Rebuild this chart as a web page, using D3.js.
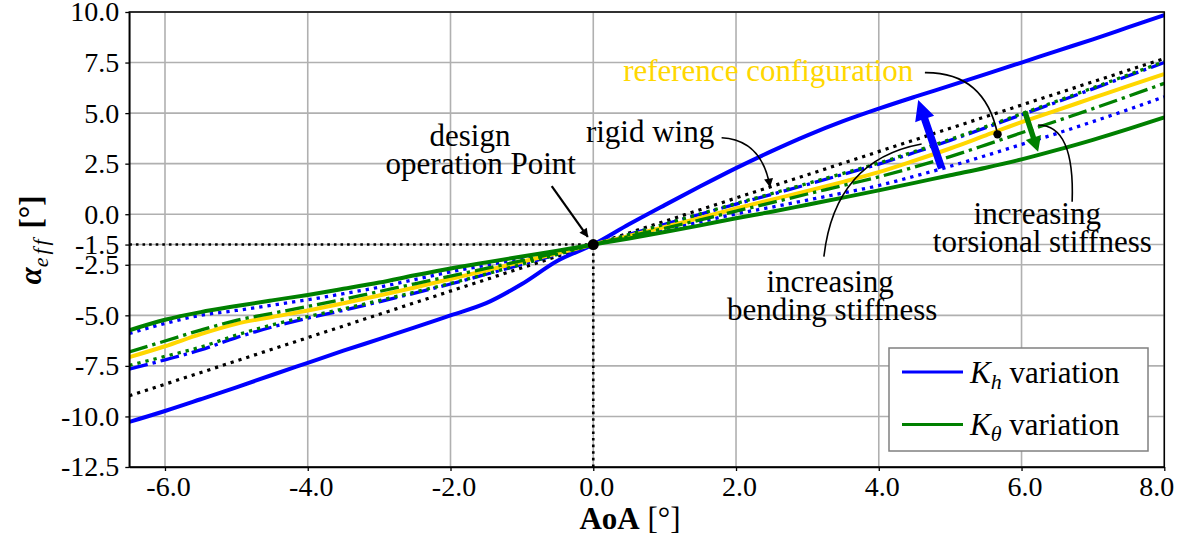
<!DOCTYPE html>
<html>
<head>
<meta charset="utf-8">
<script src="https://cdn.jsdelivr.net/npm/d3@7"></script>
<style>
  html, body { margin: 0; padding: 0; background: #ffffff; }
  svg { display: block; }
  svg text, svg tspan { font-family: "Liberation Serif", "DejaVu Serif", serif !important; }
</style>
</head>
<body>
<svg id="chart" width="1182" height="540"></svg>
<script>
// Angle of attack samples [deg]
const aoa = [-6.5, -6, -5.5, -5, -4.5, -4, -3.5, -3, -2.5, -2, -1.5, -1, -0.5, 0,
             0.5, 1, 1.5, 2, 2.5, 3, 3.5, 4, 4.5, 5, 5.5, 6, 6.5, 7, 7.5, 8];

// Effective angle of attack [deg] per configuration, one value per aoa sample
// K_h variation (blue)
const khSolid   = [-10.27, -9.73, -9.15, -8.56, -7.95, -7.35, -6.75, -6.18, -5.6, -5.0, -4.4, -3.45, -2.3, -1.5,
                   -0.5, 0.45, 1.38, 2.28, 3.12, 3.9, 4.6, 5.22, 5.8, 6.36, 6.93, 7.5, 8.08, 8.65, 9.25, 9.85];
const khDashDot = [-7.66, -7.2, -6.71, -6.1, -5.58, -5.14, -4.75, -4.33, -3.9, -3.45, -2.97, -2.48, -1.99, -1.5,
                   -1.0, -0.5, 0.0, 0.5, 0.98, 1.47, 1.97, 2.48, 3.05, 3.65, 4.28, 4.92, 5.55, 6.2, 6.85, 7.5];
const khDotted  = [-5.9, -5.4, -5.0, -4.76, -4.5, -4.23, -3.93, -3.61, -3.23, -2.85, -2.52, -2.2, -1.86, -1.5,
                   -1.12, -0.75, -0.38, 0.02, 0.35, 0.7, 1.05, 1.42, 1.88, 2.37, 2.9, 3.45, 4.0, 4.58, 5.18, 5.81];
// reference configuration (gold)
const reference = [-7.07, -6.53, -5.93, -5.42, -5.08, -4.76, -4.4, -4.02, -3.62, -3.2, -2.78, -2.35, -1.93, -1.5,
                   -1.07, -0.63, -0.18, 0.28, 0.72, 1.15, 1.6, 2.08, 2.65, 3.25, 3.9, 4.55, 5.15, 5.75, 6.35, 6.93];
// K_theta variation (green)
const ktDotted  = [-7.47, -7.03, -6.57, -5.98, -5.47, -5.06, -4.68, -4.27, -3.85, -3.42, -2.96, -2.47, -1.99, -1.5,
                   -1.0, -0.49, 0.02, 0.53, 1.02, 1.52, 2.02, 2.53, 3.1, 3.7, 4.33, 4.97, 5.6, 6.25, 6.9, 7.55];
const ktDashDot = [-6.81, -6.27, -5.73, -5.25, -4.9, -4.56, -4.2, -3.82, -3.44, -3.06, -2.68, -2.3, -1.9, -1.5,
                   -1.1, -0.7, -0.28, 0.15, 0.57, 1.0, 1.42, 1.85, 2.33, 2.85, 3.43, 4.03, 4.62, 5.22, 5.84, 6.47];
const ktSolid   = [-5.74, -5.22, -4.84, -4.54, -4.26, -3.99, -3.69, -3.38, -3.02, -2.68, -2.38, -2.09, -1.8, -1.5,
                   -1.2, -0.88, -0.55, -0.2, 0.12, 0.47, 0.82, 1.18, 1.55, 1.93, 2.3, 2.71, 3.18, 3.68, 4.22, 4.79];

// rigid wing (straight line)
const rigidAoA   = [-6.5, 0, 8];
const rigidAlpha = [-8.98, -1.5, 7.7];

// design operation point [aoa, alpha_eff]
const designPoint = [0, -1.5];

// axis ticks
const xTicks = [-6, -4, -2, 0, 2, 4, 6, 8];
const xTickLabels = ["-6.0", "-4.0", "-2.0", "0.0", "2.0", "4.0", "6.0", "8.0"];
const yTicks = [-12.5, -10, -7.5, -5, -2.5, -1.5, 0, 2.5, 5, 7.5, 10];
const yTickLabels = ["-12.5", "-10.0", "-7.5", "-5.0", "-2.5", "-1.5", "0.0", "2.5", "5.0", "7.5", "10.0"];

// legend entries: symbol, subscript, colour
const legendSymbols = ["K", "K"];
const legendSubs = ["h", "θ"];
const legendColors = ["#0000ff", "#008000"];

const BLUE = "#0000ff", GREEN = "#008000", GOLD = "#ffd700";
const SERIF = "'Liberation Serif', 'DejaVu Serif', serif";

const svg = d3.select("#chart");
const x = d3.scaleLinear().domain([-6.5, 8]).range([129.3, 1164.3]);
const y = d3.scaleLinear().domain([-12.5, 10]).range([467, 12]);
const [x0, x1] = x.domain();
const [y0, y1] = y.domain();

const defs = svg.append("defs");
defs.append("clipPath").attr("id", "plotArea").append("rect")
  .attr("x", x(x0)).attr("y", y(y1))
  .attr("width", x(x1) - x(x0)).attr("height", y(y0) - y(y1));
defs.append("marker").attr("id", "tip")
  .attr("viewBox", "0 0 10 10").attr("refX", 9).attr("refY", 5)
  .attr("markerUnits", "userSpaceOnUse").attr("markerWidth", 11).attr("markerHeight", 9)
  .attr("orient", "auto")
  .append("path").attr("d", "M0,0 L10,5 L0,10 Z").attr("fill", "#000");

// grid
const grid = svg.append("g");
grid.selectAll("line.gx").data(xTicks).join("line").attr("class", "gx")
  .attr("x1", d => x(d)).attr("x2", d => x(d)).attr("y1", y(y0)).attr("y2", y(y1))
  .attr("stroke", "#b0b0b0").attr("stroke-width", 1.6);
grid.selectAll("line.gy").data(yTicks).join("line").attr("class", "gy")
  .attr("x1", x(x0)).attr("x2", x(x1)).attr("y1", d => y(d)).attr("y2", d => y(d))
  .attr("stroke", "#b0b0b0").attr("stroke-width", 1.6);

// design point guide lines
const guides = svg.append("g").attr("clip-path", "url(#plotArea)");
guides.append("line")
  .attr("x1", x(x0)).attr("x2", x(designPoint[0]))
  .attr("y1", y(designPoint[1])).attr("y2", y(designPoint[1]))
  .attr("stroke", "#000").attr("stroke-width", 2.6).attr("stroke-dasharray", "2.6,4");
guides.append("line")
  .attr("x1", x(designPoint[0])).attr("x2", x(designPoint[0]))
  .attr("y1", y(y0)).attr("y2", y(designPoint[1]))
  .attr("stroke", "#000").attr("stroke-width", 2.6).attr("stroke-dasharray", "2.6,4");

// curves
const curves = [
  { a: rigidAoA, v: rigidAlpha, color: "#000000", w: 3.2, dash: "3.2,5" },
  { a: aoa, v: khSolid,   color: BLUE,  w: 4,   dash: null },
  { a: aoa, v: khDashDot, color: BLUE,  w: 3.3, dash: "19,5,3.3,5" },
  { a: aoa, v: khDotted,  color: BLUE,  w: 3.3, dash: "3.3,5" },
  { a: aoa, v: reference, color: GOLD,  w: 4,   dash: null },
  { a: aoa, v: ktDotted,  color: GREEN, w: 3.3, dash: "3.3,5" },
  { a: aoa, v: ktDashDot, color: GREEN, w: 3.3, dash: "19,5,3.3,5" },
  { a: aoa, v: ktSolid,   color: GREEN, w: 4,   dash: null }
];
const line = d3.line().x(d => x(d[0])).y(d => y(d[1])).curve(d3.curveMonotoneX);
svg.append("g").attr("clip-path", "url(#plotArea)")
  .selectAll("path").data(curves).join("path")
  .attr("d", c => line(c.a.map((a, i) => [a, c.v[i]])))
  .attr("fill", "none").attr("stroke", c => c.color).attr("stroke-width", c => c.w)
  .attr("stroke-dasharray", c => c.dash).attr("stroke-linejoin", "round");

// design operation point marker
svg.append("circle").attr("cx", x(designPoint[0])).attr("cy", y(designPoint[1]))
  .attr("r", 5.5).attr("fill", "#000");

// trend arrows
function fatArrow(ax, ay, bx, by, sw, hw, hl) {
  const dx = bx - ax, dy = by - ay, L = Math.hypot(dx, dy);
  const ux = dx / L, uy = dy / L, nx = -uy, ny = ux;
  const cx = bx - ux * hl, cy = by - uy * hl;
  return [
    [ax + nx * sw / 2, ay + ny * sw / 2], [cx + nx * sw / 2, cy + ny * sw / 2],
    [cx + nx * hw / 2, cy + ny * hw / 2], [bx, by],
    [cx - nx * hw / 2, cy - ny * hw / 2], [cx - nx * sw / 2, cy - ny * sw / 2],
    [ax - nx * sw / 2, ay - ny * sw / 2]
  ].map(p => p.join(",")).join(" ");
}
const arrows = [
  { from: [4.88, 2.27], to: [4.552, 5.65], color: BLUE,  sw: 7.5, hw: 20, hl: 20 },
  { from: [6.046, 5.07], to: [6.232, 3.09], color: GREEN, sw: 5.5, hw: 16, hl: 15 }
];
svg.append("g").selectAll("polygon").data(arrows).join("polygon")
  .attr("points", d => fatArrow(x(d.from[0]), y(d.from[1]), x(d.to[0]), y(d.to[1]), d.sw, d.hw, d.hl))
  .attr("fill", d => d.color);

// annotation connectors (quadratic curves: start, control, end)
const ann = svg.append("g");
const qPath = (p0, c, p1) => `M${x(p0[0])},${y(p0[1])} Q${x(c[0])},${y(c[1])} ${x(p1[0])},${y(p1[1])}`;
ann.append("line")
  .attr("x1", x(-0.582)).attr("y1", y(1.39)).attr("x2", x(-0.077)).attr("y2", y(-1.12))
  .attr("stroke", "#000").attr("stroke-width", 2.2).attr("marker-end", "url(#tip)");
ann.append("path").attr("d", qPath([1.798, 3.78], [2.363, 3.67], [2.475, 1.36]))
  .attr("fill", "none").attr("stroke", "#000").attr("stroke-width", 1.6).attr("marker-end", "url(#tip)");
ann.append("path").attr("d", qPath([4.646, 7.0], [5.486, 7.03], [5.664, 3.95]))
  .attr("fill", "none").attr("stroke", "#000").attr("stroke-width", 1.6);
ann.append("circle").attr("cx", x(5.664)).attr("cy", y(3.95)).attr("r", 4.2).attr("fill", "#000");
ann.append("path").attr("d", qPath([3.231, -2.1], [3.385, 2.68], [4.6, 3.47]))
  .attr("fill", "none").attr("stroke", "#000").attr("stroke-width", 1.6);
ann.append("path").attr("d", qPath([6.709, 0.62], [6.747, 4.41], [6.232, 4.41]))
  .attr("fill", "none").attr("stroke", "#000").attr("stroke-width", 1.6);

// annotation texts [text, aoa, alpha_eff baseline, colour]
const notes = [
  ["design", -1.727, 3.37, "#000"],
  ["operation Point", -1.576, 1.98, "#000"],
  ["rigid wing", 0.796, 3.58, "#000"],
  ["reference configuration", 2.45, 6.6, GOLD],
  ["increasing", 3.319, -3.84, "#000"],
  ["bending stiffness", 3.347, -5.24, "#000"],
  ["increasing", 6.22, -0.49, "#000"],
  ["torsional stiffness", 6.291, -1.86, "#000"]
];
ann.selectAll("text").data(notes).join("text")
  .attr("x", d => x(d[1])).attr("y", d => y(d[2]))
  .attr("text-anchor", "middle").attr("font-size", 31).attr("font-family", SERIF)
  .attr("fill", d => d[3]).text(d => d[0]);

// legend
const lg = svg.append("g");
lg.append("rect").attr("x", 889).attr("y", 348).attr("width", 259).attr("height", 103)
  .attr("fill", "#fff").attr("stroke", "#808080").attr("stroke-width", 1.5);
legendSymbols.forEach((s, i) => {
  const ly = 372 + i * 52.5;
  lg.append("line").attr("x1", 902).attr("x2", 963).attr("y1", ly).attr("y2", ly)
    .attr("stroke", legendColors[i]).attr("stroke-width", 3);
  const t = lg.append("text").attr("x", 970).attr("y", ly + 10.5)
    .attr("font-size", 31).attr("font-family", SERIF).attr("fill", "#000");
  t.append("tspan").attr("font-style", "italic").text(s);
  t.append("tspan").attr("font-style", "italic").attr("font-size", 22).attr("dy", 6).text(legendSubs[i]);
  t.append("tspan").attr("dy", -6).text(" variation");
});

// axes
const xAxis = d3.axisBottom(x).tickValues(xTicks).tickFormat((d, i) => xTickLabels[i])
  .tickSize(4).tickSizeOuter(0).tickPadding(5);
const yAxis = d3.axisLeft(y).tickValues(yTicks).tickFormat((d, i) => yTickLabels[i])
  .tickSize(4).tickSizeOuter(0).tickPadding(6);
const gx = svg.append("g").attr("transform", `translate(0,${y(y0)})`).call(xAxis);
const gy = svg.append("g").attr("transform", `translate(${x(x0)},0)`).call(yAxis);
[gx, gy].forEach(g => {
  g.attr("font-family", SERIF).attr("font-size", 28);
  g.selectAll("text").attr("font-family", SERIF).attr("font-size", 28).attr("fill", "#000");
  g.selectAll("line").attr("stroke", "#000").attr("stroke-width", 1.3);
  g.select(".domain").attr("stroke", "#000").attr("stroke-width", 1.5);
});
gx.selectAll(".tick text").attr("dx", (d, i) => i === xTicks.length - 1 ? -8 : 3);

// frame
svg.append("rect").attr("x", x(x0)).attr("y", y(y1))
  .attr("width", x(x1) - x(x0)).attr("height", y(y0) - y(y1))
  .attr("fill", "none").attr("stroke", "#000").attr("stroke-width", 1.5);

// axis labels
const xl = svg.append("text").attr("x", 630).attr("y", 528.5)
  .attr("text-anchor", "middle").attr("font-size", 31).attr("font-family", SERIF);
xl.append("tspan").attr("font-weight", "bold").text("AoA");
xl.append("tspan").text(" [°]");

const yl = svg.append("text").attr("transform", "translate(41,240) rotate(-90)")
  .attr("text-anchor", "middle").attr("font-size", 31).attr("font-family", SERIF);
yl.append("tspan").attr("font-weight", "bold").attr("font-style", "italic").text("α");
yl.append("tspan").attr("font-style", "italic").attr("font-size", 22).attr("dy", 7)
  .attr("letter-spacing", 3).text("eff");
yl.append("tspan").attr("dy", -7).attr("font-weight", "bold").text(" [°]");
</script>
</body>
</html>
